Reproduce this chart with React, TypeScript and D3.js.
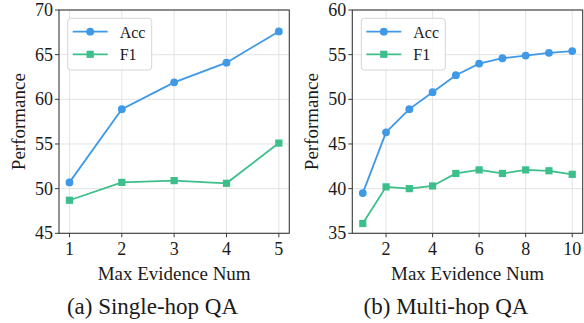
import React from "react";
import * as d3 from "d3";

const singleX = [1, 2, 3, 4, 5];
const singleAcc = [50.7, 58.9, 61.9, 64.1, 67.6];
const singleF1 = [48.7, 50.7, 50.9, 50.6, 55.1];
const singleXTicks = [1, 2, 3, 4, 5];
const singleYTicks = [45, 50, 55, 60, 65, 70];

const multiX = [1, 2, 3, 4, 5, 6, 7, 8, 9, 10];
const multiAcc = [39.5, 46.3, 48.9, 50.8, 52.7, 54.0, 54.6, 54.9, 55.2, 55.4];
const multiF1 = [36.1, 40.2, 40.0, 40.3, 41.7, 42.1, 41.7, 42.1, 42.0, 41.6];
const multiXTicks = [2, 4, 6, 8, 10];
const multiYTicks = [35, 40, 45, 50, 55, 60];

const seriesNames = ["Acc", "F1"];
const captions = ["(a) Single-hop QA", "(b) Multi-hop QA"];

const BLUE = "#3f99e6";
const GREEN = "#3cbf8b";
const FONT = "'Liberation Serif', 'DejaVu Serif', serif";

type PanelProps = {
  left: number;
  right: number;
  xDomain: [number, number];
  yDomain: [number, number];
  xs: number[];
  acc: number[];
  f1: number[];
  xTicks: number[];
  yTicks: number[];
  caption: string;
  captionX: number;
  legendX: number;
};

function Panel(p: PanelProps) {
  const top = 10;
  const bottom = 233.3;
  const x = d3.scaleLinear().domain(p.xDomain).range([p.left, p.right]);
  const y = d3.scaleLinear().domain(p.yDomain).range([bottom, top]);
  const line = d3
    .line<number>()
    .x((_, i) => x(p.xs[i]))
    .y((d) => y(d));
  const midX = (p.left + p.right) / 2;
  const midY = (top + bottom) / 2;
  const lx = p.legendX;
  return (
    <g>
      {p.xTicks.map((t) => (
        <line key={"gx" + t} x1={x(t)} x2={x(t)} y1={top} y2={bottom} stroke="#e3e3e3" strokeWidth={1} />
      ))}
      {p.yTicks.map((t) => (
        <line key={"gy" + t} x1={p.left} x2={p.right} y1={y(t)} y2={y(t)} stroke="#e3e3e3" strokeWidth={1} />
      ))}
      <path d={line(p.acc) || ""} fill="none" stroke={BLUE} strokeWidth={1.8} />
      <path d={line(p.f1) || ""} fill="none" stroke={GREEN} strokeWidth={1.8} />
      {p.acc.map((v, i) => (
        <circle key={"a" + i} cx={x(p.xs[i])} cy={y(v)} r={3.9} fill={BLUE} />
      ))}
      {p.f1.map((v, i) => (
        <rect key={"f" + i} x={x(p.xs[i]) - 3.6} y={y(v) - 3.6} width={7.2} height={7.2} fill={GREEN} />
      ))}
      <rect x={p.left} y={top} width={p.right - p.left} height={bottom - top} fill="none" stroke="#3a3a3a" strokeWidth={1.1} />
      {p.xTicks.map((t) => (
        <g key={"tx" + t}>
          <line x1={x(t)} x2={x(t)} y1={bottom} y2={bottom + 4} stroke="#3a3a3a" strokeWidth={1} />
          <text x={x(t)} y={bottom + 22} textAnchor="middle" fontSize={18} fontFamily={FONT} fill="#1a1a1a">
            {t}
          </text>
        </g>
      ))}
      {p.yTicks.map((t) => (
        <g key={"ty" + t}>
          <line x1={p.left - 4} x2={p.left} y1={y(t)} y2={y(t)} stroke="#3a3a3a" strokeWidth={1} />
          <text x={p.left - 6} y={y(t) + 6} textAnchor="end" fontSize={18} fontFamily={FONT} fill="#1a1a1a">
            {t}
          </text>
        </g>
      ))}
      <text x={midX} y={279.5} textAnchor="middle" fontSize={19} fontFamily={FONT} fill="#1a1a1a">
        Max Evidence Num
      </text>
      <text
        transform={`translate(${p.left - 34},${midY}) rotate(-90)`}
        textAnchor="middle"
        fontSize={19}
        fontFamily={FONT}
        fill="#1a1a1a"
      >
        Performance
      </text>
      <text x={p.captionX} y={314} textAnchor="middle" fontSize={23} fontFamily={FONT} fill="#1a1a1a">
        {p.caption}
      </text>
      <rect x={lx} y={18.3} width={84} height={51.7} rx={3} fill="white" fillOpacity={0.85} stroke="#d5d5d5" strokeWidth={1} />
      <line x1={lx + 5} x2={lx + 40} y1={31.7} y2={31.7} stroke={BLUE} strokeWidth={1.8} />
      <circle cx={lx + 22.5} cy={31.7} r={3.9} fill={BLUE} />
      <text x={lx + 52} y={37.5} fontSize={16} fontFamily={FONT} fill="#1a1a1a">
        {seriesNames[0]}
      </text>
      <line x1={lx + 5} x2={lx + 40} y1={54.3} y2={54.3} stroke={GREEN} strokeWidth={1.8} />
      <rect x={lx + 22.5 - 3.6} y={54.3 - 3.6} width={7.2} height={7.2} fill={GREEN} />
      <text x={lx + 52} y={60} fontSize={16} fontFamily={FONT} fill="#1a1a1a">
        {seriesNames[1]}
      </text>
    </g>
  );
}

export default function App() {
  return (
    <svg width={584} height={323} style={{ position: "absolute", left: 0, top: 0, background: "white" }}>
      <rect width={584} height={323} fill="white" />
      <Panel
        left={59}
        right={289.3}
        xDomain={[0.8, 5.2]}
        yDomain={[45, 70]}
        xs={singleX}
        acc={singleAcc}
        f1={singleF1}
        xTicks={singleXTicks}
        yTicks={singleYTicks}
        caption={captions[0]}
        captionX={152.5}
        legendX={67.7}
      />
      <Panel
        left={352.3}
        right={582.7}
        xDomain={[0.55, 10.45]}
        yDomain={[35, 60]}
        xs={multiX}
        acc={multiAcc}
        f1={multiF1}
        xTicks={multiXTicks}
        yTicks={multiYTicks}
        caption={captions[1]}
        captionX={446}
        legendX={361.3}
      />
    </svg>
  );
}
